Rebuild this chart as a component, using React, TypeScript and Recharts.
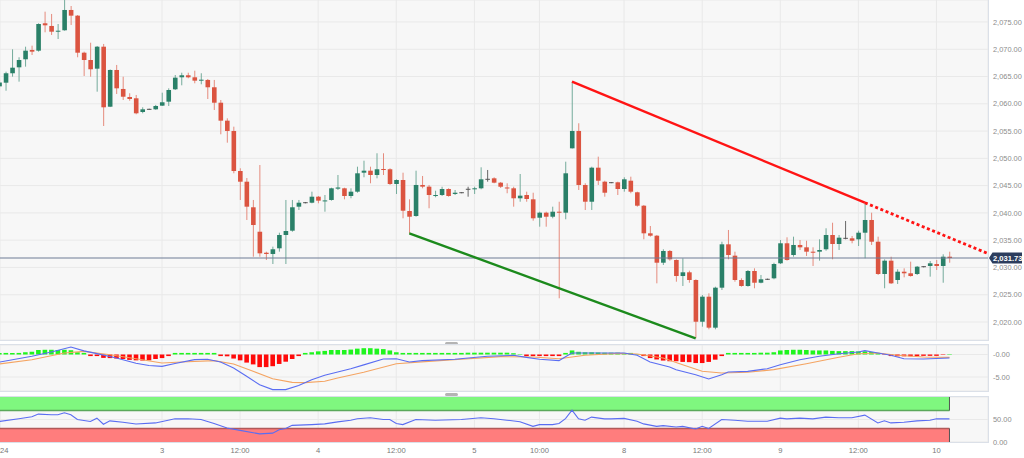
import React from 'react';
import {
  ComposedChart, Bar, Line, XAxis, YAxis, CartesianGrid, ReferenceLine, ReferenceArea, Cell,
} from 'recharts';

const FONT = "'Liberation Sans', Arial, sans-serif";

// ---------- x axis (hour index, weekend removed; 0 = Jan 2 00:00) ----------
const START_HOUR = -1;
const X_MIN = -0.891;
const X_MAX = 150.92;
const X_TICKS = [-0.89, 24, 36, 48, 60, 72, 82, 95, 107, 119, 131, 143];
const X_LABELS = ['2024', '3', '12:00', '4', '12:00', '5', '10:00', '8', '12:00', '9', '12:00', '10'];

// ---------- price candles (hourly) ----------
const OPEN = [
  2063.2, 2063.87, 2065.6, 2066.69, 2068.16, 2069.87, 2069.74, 2074.76, 2074.27, 2073.29,
  2073.48, 2077.2, 2076.16, 2069.37, 2068.03, 2066.44, 2070.47, 2059.47, 2066.2, 2062.72,
  2061.25, 2061.01, 2058.5, 2058.99, 2058.99, 2059.66, 2060.39, 2062.66, 2064.86, 2065.23,
  2064.86, 2064.31, 2064.37, 2063.03, 2060.2, 2056.91, 2055.02, 2047.68, 2045.72, 2041.03,
  2036.55, 2032.7, 2032.47, 2033.51, 2035.95, 2036.74, 2041.14, 2041.87, 2041.87, 2042.97,
  2042.18, 2042.37, 2044.44, 2044.51, 2043.1, 2043.89, 2047.37, 2047.74, 2046.95, 2048.05,
  2048.0, 2045.3, 2046.03, 2040.35, 2039.43, 2045.12, 2044.81, 2043.1, 2043.28, 2044.38,
  2043.47, 2043.7, 2044.33, 2044.33, 2044.51, 2046.16, 2046.34, 2045.54, 2044.66, 2044.51,
  2042.68, 2043.28, 2042.49, 2039.12, 2040.04, 2039.3, 2040.22, 2040.04, 2051.84, 2055.02,
  2045.12, 2042.05, 2048.29, 2045.72, 2045.54, 2045.61, 2044.38, 2045.9, 2043.78, 2041.32,
  2036.26, 2035.82, 2030.87, 2033.02, 2031.37, 2028.43, 2029.11, 2027.7, 2020.05, 2024.64,
  2018.96, 2026.29, 2034.24, 2032.16, 2027.7, 2026.6, 2029.35, 2027.2, 2027.83, 2028.01,
  2030.76, 2034.43, 2032.28, 2034.12, 2033.69, 2032.89, 2032.89, 2033.33, 2035.95, 2034.3,
  2035.34, 2035.34, 2035.16, 2036.37, 2038.7, 2034.72, 2028.8, 2031.24, 2027.7, 2029.22,
  2028.93, 2028.8, 2030.14, 2030.27, 2030.63, 2030.27, 2031.97,
];
const HIGH = [
  2064.4, 2065.89, 2069.99, 2068.53, 2070.47, 2070.66, 2074.76, 2076.89, 2076.47, 2074.63,
  2079.58, 2077.93, 2076.28, 2069.56, 2071.2, 2070.6, 2070.97, 2066.3, 2067.12, 2064.97,
  2061.93, 2061.62, 2059.36, 2059.1, 2059.8, 2062.04, 2062.84, 2065.28, 2065.7, 2065.7,
  2066.07, 2065.6, 2064.55, 2064.37, 2060.7, 2057.34, 2055.81, 2048.18, 2046.4, 2042.37,
  2048.78, 2032.89, 2033.81, 2036.37, 2042.37, 2042.37, 2042.37, 2042.0, 2043.89, 2043.1,
  2043.28, 2044.62, 2046.95, 2044.62, 2044.51, 2048.47, 2049.57, 2048.47, 2050.93, 2050.93,
  2048.18, 2046.16, 2047.37, 2042.49, 2047.74, 2046.77, 2045.12, 2044.07, 2044.8, 2044.51,
  2044.2, 2043.8, 2044.8, 2044.8, 2048.36, 2047.87, 2046.53, 2045.67, 2045.43, 2044.8,
  2047.13, 2043.89, 2043.7, 2040.22, 2040.22, 2041.14, 2042.05, 2049.39, 2064.05, 2056.43,
  2045.43, 2048.47, 2050.31, 2045.9, 2045.65, 2045.72, 2046.53, 2046.64, 2043.89, 2041.45,
  2037.6, 2035.95, 2033.33, 2033.2, 2031.49, 2031.68, 2029.41, 2027.83, 2024.95, 2025.26,
  2026.47, 2034.72, 2036.87, 2032.89, 2028.01, 2029.53, 2029.84, 2028.62, 2027.95, 2030.87,
  2035.03, 2035.53, 2035.64, 2035.03, 2034.9, 2033.69, 2035.16, 2037.18, 2038.2, 2035.95,
  2038.52, 2035.77, 2036.74, 2041.87, 2040.04, 2035.64, 2031.49, 2031.97, 2029.66, 2029.84,
  2031.06, 2030.27, 2030.25, 2031.18, 2031.37, 2032.41, 2032.89,
];
const LOW = [
  2062.8, 2062.4, 2064.97, 2064.06, 2066.81, 2068.95, 2069.56, 2073.11, 2072.62, 2071.88,
  2073.4, 2074.45, 2068.53, 2065.1, 2064.97, 2062.22, 2055.93, 2059.4, 2061.8, 2060.7,
  2060.57, 2058.08, 2058.26, 2058.9, 2058.9, 2059.6, 2059.6, 2062.53, 2063.39, 2064.68,
  2063.76, 2063.58, 2060.88, 2058.87, 2054.41, 2052.87, 2047.26, 2042.37, 2038.7, 2031.97,
  2031.97, 2031.37, 2030.63, 2032.89, 2030.63, 2036.55, 2040.53, 2041.75, 2041.76, 2041.76,
  2040.22, 2042.24, 2044.2, 2042.49, 2042.68, 2043.7, 2046.53, 2045.43, 2046.34, 2046.95,
  2045.12, 2043.47, 2039.01, 2036.26, 2039.3, 2044.51, 2040.85, 2042.86, 2043.1, 2042.97,
  2043.28, 2043.6, 2042.97, 2043.47, 2044.33, 2045.72, 2045.43, 2044.57, 2043.6, 2041.14,
  2042.05, 2042.05, 2038.57, 2037.47, 2037.47, 2039.01, 2024.35, 2038.83, 2051.8, 2044.2,
  2040.53, 2040.53, 2045.12, 2042.97, 2045.45, 2043.28, 2043.89, 2043.6, 2041.14, 2035.16,
  2035.64, 2027.09, 2030.45, 2031.24, 2027.39, 2026.6, 2027.2, 2017.01, 2019.14, 2018.66,
  2018.66, 2025.87, 2031.49, 2027.39, 2026.47, 2026.47, 2026.18, 2027.09, 2027.7, 2027.83,
  2030.63, 2031.24, 2031.97, 2033.2, 2032.1, 2030.27, 2031.24, 2033.07, 2031.49, 2033.2,
  2035.16, 2034.43, 2033.93, 2031.68, 2034.12, 2028.62, 2026.18, 2026.97, 2026.97, 2028.19,
  2028.31, 2028.62, 2030.0, 2028.31, 2029.53, 2027.2, 2030.87,
];
const CLOSE = [
  2063.9, 2065.6, 2066.62, 2068.03, 2069.74, 2069.56, 2074.63, 2074.39, 2073.22, 2073.4,
  2077.2, 2076.16, 2069.37, 2068.03, 2066.33, 2070.47, 2059.36, 2066.2, 2062.84, 2061.3,
  2060.88, 2058.26, 2058.99, 2058.99, 2059.6, 2060.28, 2062.53, 2064.79, 2065.23, 2064.86,
  2064.24, 2064.42, 2063.03, 2060.2, 2056.91, 2055.02, 2047.68, 2045.72, 2041.14, 2037.78,
  2032.59, 2032.47, 2033.33, 2035.95, 2036.68, 2041.03, 2041.87, 2041.87, 2042.97, 2042.24,
  2042.29, 2044.51, 2044.66, 2043.1, 2043.89, 2047.26, 2047.74, 2046.95, 2048.0, 2047.94,
  2045.3, 2046.03, 2040.4, 2039.3, 2045.12, 2044.81, 2043.28, 2043.28, 2044.38, 2043.1,
  2043.7, 2043.7, 2044.33, 2044.51, 2046.16, 2046.16, 2045.54, 2044.8, 2044.59, 2042.68,
  2043.16, 2042.55, 2039.01, 2040.04, 2039.3, 2040.22, 2040.15, 2047.26, 2055.02, 2045.12,
  2042.05, 2048.29, 2045.9, 2043.7, 2045.54, 2044.38, 2046.16, 2043.89, 2041.32, 2036.26,
  2035.82, 2030.87, 2033.02, 2031.49, 2028.43, 2029.11, 2027.7, 2020.05, 2024.64, 2018.96,
  2026.29, 2034.24, 2032.28, 2027.7, 2026.6, 2029.35, 2027.2, 2027.83, 2027.83, 2030.63,
  2034.43, 2031.37, 2034.12, 2033.69, 2032.89, 2032.7, 2033.2, 2035.95, 2034.3, 2035.46,
  2035.34, 2034.9, 2036.37, 2038.7, 2034.72, 2028.8, 2031.24, 2027.09, 2029.22, 2028.93,
  2028.43, 2030.14, 2030.14, 2030.76, 2030.27, 2031.97, 2031.73,
];
const LAST_PRICE = 2031.73;
const PRICE_DOMAIN = [2016.7, 2079.03];
const PRICE_TICKS = [2020, 2025, 2030, 2035, 2040, 2045, 2050, 2055, 2060, 2065, 2070, 2075];

// trend lines (hour index, price)
const RED_LINE = [{ t: 87, p: 2064.05 }, { t: 132, p: 2041.87 }];
const RED_EXT = [{ t: 132, p: 2041.87 }, { t: 150.9, p: 2032.55 }];
const GREEN_LINE = [{ t: 62, p: 2036.26 }, { t: 106, p: 2017.01 }];

// ---------- MACD ----------
const MACD_HIST = [
  0.35, 0.35, 0.35, 0.35, 0.5, 0.6, 1.0, 1.05, 1.05, 1.0,
  1.05, 0.95, 0.5, 0.35, -0.35, -0.35, -0.75, -0.8, -0.9, -1.0,
  -1.2, -1.3, -1.35, -1.3, -1.0, -0.8, -0.35, 0.35, 0.35, 0.35,
  0.35, 0.35, 0.35, 0.35, -0.35, -0.4, -0.9, -1.3, -1.8, -2.2,
  -2.8, -2.8, -2.6, -2.1, -1.6, -1.0, -0.35, 0.35, 0.5, 0.7,
  0.8, 1.0, 1.0, 1.0, 1.1, 1.3, 1.4, 1.4, 1.3, 1.2,
  0.9, 0.5, 0.35, 0.35, 0.35, 0.35, 0.35, 0.35, 0.35, 0.35,
  0.35, 0.35, 0.4, 0.4, 0.4, 0.4, 0.4, 0.4, 0.4, 0.3,
  0.1, -0.35, -0.35, -0.35, -0.35, -0.35, -0.35, 0.35, 0.9, 0.6,
  0.5, 0.5, 0.45, 0.4, 0.4, 0.4, 0.35, 0.35, 0.1, -0.35,
  -0.8, -1.1, -1.35, -1.5, -1.5, -1.65, -1.7, -1.9, -1.9, -1.65,
  -1.15, -0.35, 0.35, 0.35, 0.35, 0.35, 0.35, 0.4, 0.4, 0.5,
  0.9, 1.0, 1.05, 1.05, 1.0, 0.9, 0.9, 0.9, 0.8, 0.75,
  0.75, 0.75, 0.7, 0.7, 0.55, 0.35, -0.1, -0.35, -0.4, -0.4,
  -0.4, -0.35, -0.3, -0.3, -0.3, -0.1, 0.1,
];
const MACD_T = [
  -1, 4, 7, 10, 12, 14, 17, 20, 22, 24, 26, 29, 31, 33, 35, 37, 39, 41, 43, 45,
  47, 49, 51, 53, 55, 58, 60, 62, 64, 69, 74, 78, 80, 82, 85, 86, 87, 91, 95, 97,
  99, 102, 103, 106, 108, 110, 111, 114, 117, 119, 122, 125, 128, 131, 132, 134, 136, 138, 141, 145,
];
const MACD_V = [
  -1.7, -0.4, 0.55, 1.67, 0.8, 0.2, -0.78, -1.95, -2.45, -2.63, -2.0, -1.15, -1.07, -1.67, -3.0, -4.85, -6.7, -7.8, -7.8, -6.9,
  -5.6, -4.6, -3.9, -3.15, -2.3, -1.0, -0.93, -1.67, -1.37, -1.07, -0.4, -0.18, -0.63, -1.07, -1.37, -0.48, 0.33, 0.33, 0.33, -0.18,
  -1.67, -2.78, -3.37, -4.48, -5.44, -4.48, -3.89, -3.74, -3.15, -2.26, -1.15, -0.4, 0.18, 0.55, 0.85, 0.33, -0.18, -0.93, -1.0, -0.78,
];
const SIGNAL_T = [
  -1, 4, 9, 12, 16, 20, 24, 27, 32, 35, 38, 41, 44, 46, 49, 51, 55, 60, 65, 70,
  76, 81, 85, 89, 94, 97, 101, 104, 107, 110, 114, 118, 123, 128, 131, 134, 137, 141, 145,
];
const SIGNAL_V = [
  -2.1, -1.15, 0.33, 0.7, -0.04, -0.93, -1.89, -1.67, -1.37, -2.1, -3.74, -5.37, -6.19, -6.26, -5.96, -5.22, -3.96, -2.04, -1.52, -1.07,
  -0.48, -0.56, -0.93, -0.18, 0.26, 0.1, -0.78, -2.26, -3.74, -4.11, -3.96, -3.37, -2.04, -0.63, 0.18, 0.33, -0.18, -0.56, -0.63,
];
const MACD_DOMAIN = [-8.11, 2.11];
const MACD_TICKS = [-5, 0];

// ---------- RSI ----------
const RSI_T = [
  -1, 2, 4, 5, 7, 8, 9, 10, 11, 13, 14, 15, 16, 18, 20, 23, 26, 28, 30, 32,
  34, 36, 39, 41, 42, 43, 44, 47, 49, 51, 53, 54, 56, 58, 59, 60, 61, 63, 66, 70,
  73, 75, 77, 79, 81, 82, 84, 85, 86, 87, 88, 89, 90, 92, 93, 95, 97, 98, 100, 101,
  103, 104, 106, 107, 108, 110, 112, 114, 116, 117, 119, 120, 122, 124, 126, 128, 130, 132, 134, 135,
  136, 138, 140, 142, 143, 145,
];
const RSI_V = [
  45.5, 51.5, 56, 62, 60.6, 60.6, 65, 60.6, 50, 45.5, 53, 39.4, 47, 43.9, 40.1, 42.4, 51.5, 51.5, 50, 41,
  31, 25.8, 18, 19.7, 27.3, 30, 37, 38.6, 40.2, 44.7, 48.5, 51.5, 53.8, 50, 50, 41, 38.6, 50, 48.5, 50,
  53.8, 51.5, 48.5, 45, 34.8, 38.6, 38.6, 41, 52, 70.5, 51.5, 48.5, 55.3, 51.5, 51.5, 52.5, 46, 40.2, 34.8, 36.4,
  33.3, 34.8, 28.8, 34.8, 30, 50, 48.5, 46, 46, 46, 53, 51.5, 53, 51.5, 55.3, 53.8, 53.8, 59.8, 42.4, 47,
  42.4, 43.9, 47, 48.5, 51.5, 51.5,
];
const RSI_TICKS = [0, 50];
const RSI_OB = 70;
const RSI_OS = 30;
const RSI_BAND_END = 145;

// ---------- colours ----------
const GREEN = '#2a8068';
const RED = '#db5440';
const GREEN_WICK = '#74ab9b';
const RED_WICK = '#e58b7d';
const GRID_BG = '#f7f7f7';
const GRID_LINE = '#e9e9e9';
const BORDER = '#dbe0e8';

// ---------- built tables ----------
const candles = OPEN.map((o, i) => ({
  t: START_HOUR + i,
  o, h: HIGH[i], l: LOW[i], c: CLOSE[i],
  range: [LOW[i], HIGH[i]],
}));

const macdRows: any[] = MACD_HIST.map((v, i) => ({ t: START_HOUR + i, hist: v }));
MACD_T.forEach((t, i) => { const r = macdRows[t - START_HOUR]; if (r) r.macd = MACD_V[i]; });
SIGNAL_T.forEach((t, i) => { const r = macdRows[t - START_HOUR]; if (r) r.signal = SIGNAL_V[i]; });

const rsiRows = RSI_T.map((t, i) => ({ t, rsi: RSI_V[i] }));

const fmtPrice = (v: number) =>
  v.toLocaleString('en-US', { minimumFractionDigits: 2, maximumFractionDigits: 2 });
const fmtX = (v: number) => {
  const i = X_TICKS.indexOf(v);
  return i >= 0 ? X_LABELS[i] : '';
};

const Candle = (props: any) => {
  const { x, y, width, height, payload } = props;
  if (x == null || y == null || !payload) return null;
  const { o, h, l, c } = payload;
  const top = height >= 0 ? y : y + height;
  const hh = Math.abs(height);
  const ratio = h > l ? hh / (h - l) : 0;
  const yOf = (v: number) => top + (h - v) * ratio;
  const cx = x + width / 2;
  const bTop = yOf(Math.max(o, c));
  const bBot = yOf(Math.min(o, c));
  const flat = o === c;
  const up = c > o;
  const body = flat ? '#555' : up ? GREEN : RED;
  const wick = flat ? '#666' : up ? GREEN_WICK : RED_WICK;
  const bh = Math.max(bBot - bTop, 1);
  return (
    <g>
      <line x1={cx} x2={cx} y1={top} y2={top + hh} stroke={wick} strokeWidth={1} />
      <rect x={cx - 2.3} y={flat ? bTop - 0.5 : bTop} width={4.6} height={bh} fill={body} />
    </g>
  );
};

const PriceTag = (props: any) => {
  const vb = props.viewBox || {};
  const x = (vb.x || 0) + (vb.width || 0);
  const y = vb.y || 0;
  return (
    <g>
      <path d={`M${x + 1},${y} L${x + 4.5},${y - 5.5} H${x + 34} V${y + 5.5} H${x + 4.5} Z`} fill="#2c3d5d" />
      <text x={x + 5} y={y + 2.7} fill="#ffffff" fontSize={7.6} fontWeight="bold" fontFamily={FONT}>
        {fmtPrice(LAST_PRICE)}
      </text>
    </g>
  );
};

const axisTick = { fontSize: 7.4, fill: '#8c8c8c', fontFamily: FONT };

export default function App() {
  return (
    <div style={{ position: 'absolute', left: 0, top: 0, width: 1024, height: 458, background: '#fff', overflow: 'hidden' }}>
      {/* price panel */}
      <div style={{ position: 'absolute', left: 0, top: 0 }}>
        <ComposedChart width={1024} height={340} data={candles} margin={{ top: 0, right: 0, bottom: 0, left: 0 }}>
          <CartesianGrid fill={GRID_BG} stroke={GRID_LINE} />
          <XAxis type="number" dataKey="t" domain={[X_MIN, X_MAX]} allowDataOverflow ticks={X_TICKS} hide />
          <YAxis
            orientation="right" width={36} domain={PRICE_DOMAIN} allowDataOverflow ticks={PRICE_TICKS}
            tickFormatter={fmtPrice} axisLine={false} tickLine={false} tickSize={3} tickMargin={2}
            tick={axisTick} interval={0}
          />
          <Bar dataKey="range" barSize={5} shape={<Candle />} isAnimationActive={false} />
          <ReferenceLine y={LAST_PRICE} stroke="#6e7c95" strokeWidth={1.2} label={<PriceTag />} />
          <ReferenceLine
            segment={[{ x: GREEN_LINE[0].t, y: GREEN_LINE[0].p }, { x: GREEN_LINE[1].t, y: GREEN_LINE[1].p }]}
            stroke="#1c8a1c" strokeWidth={2.4} ifOverflow="visible"
          />
          <ReferenceLine
            segment={[{ x: RED_LINE[0].t, y: RED_LINE[0].p }, { x: RED_LINE[1].t, y: RED_LINE[1].p }]}
            stroke="#ff1414" strokeWidth={2.4} ifOverflow="visible"
          />
          <ReferenceLine
            segment={[{ x: RED_EXT[0].t, y: RED_EXT[0].p }, { x: RED_EXT[1].t, y: RED_EXT[1].p }]}
            stroke="#ff1414" strokeWidth={2.8} strokeDasharray="3 2.6" ifOverflow="visible"
          />
        </ComposedChart>
      </div>
      <div style={{ position: 'absolute', left: 0, top: 0, width: 989, height: 341, boxSizing: 'border-box', borderRight: `1px solid ${BORDER}`, borderBottom: `1px solid ${BORDER}`, pointerEvents: 'none' }} />
      <div style={{ position: 'absolute', left: 445, top: 341.5, width: 13, height: 3, borderRadius: 2, background: '#b4b4b4' }} />

      {/* MACD panel */}
      <div style={{ position: 'absolute', left: 0, top: 345 }}>
        <ComposedChart width={1024} height={46} data={macdRows} margin={{ top: 0, right: 0, bottom: 0, left: 0 }}>
          <CartesianGrid fill={GRID_BG} stroke={GRID_LINE} />
          <XAxis type="number" dataKey="t" domain={[X_MIN, X_MAX]} allowDataOverflow ticks={X_TICKS} hide />
          <YAxis
            orientation="right" width={36} domain={MACD_DOMAIN} allowDataOverflow ticks={MACD_TICKS}
            tickFormatter={(v: number) => (v === 0 ? '-0.00' : v.toFixed(2))}
            axisLine={false} tickLine={false} tickSize={3} tickMargin={2} tick={axisTick} interval={0}
          />
          <Bar dataKey="hist" barSize={4.6} isAnimationActive={false}>
            {macdRows.map((r, i) => (
              <Cell key={i} fill={r.hist >= 0 ? '#1ef51e' : '#ff0a0a'} />
            ))}
          </Bar>
          <Line dataKey="signal" stroke="#f4a462" strokeWidth={1.1} dot={false} connectNulls isAnimationActive={false} />
          <Line dataKey="macd" stroke="#5a6df2" strokeWidth={1.1} dot={false} connectNulls isAnimationActive={false} />
        </ComposedChart>
      </div>
      <div style={{ position: 'absolute', left: 0, top: 344, width: 989, height: 48, boxSizing: 'border-box', borderTop: `1px solid ${BORDER}`, borderRight: `1px solid ${BORDER}`, borderBottom: `1px solid ${BORDER}`, pointerEvents: 'none' }} />
      <div style={{ position: 'absolute', left: 445, top: 393, width: 13, height: 3, borderRadius: 2, background: '#b4b4b4' }} />

      {/* RSI panel */}
      <div style={{ position: 'absolute', left: 0, top: 397 }}>
        <ComposedChart width={1024} height={61} data={rsiRows} margin={{ top: 0, right: 0, bottom: 0, left: 0 }}>
          <CartesianGrid fill={GRID_BG} stroke={GRID_LINE} />
          <XAxis
            type="number" dataKey="t" domain={[X_MIN, X_MAX]} allowDataOverflow ticks={X_TICKS}
            tickFormatter={fmtX} interval={0} height={16} axisLine={false} tickLine={false}
            tickSize={4} tickMargin={2} tick={{ fontSize: 7.6, fill: '#777', fontFamily: FONT }}
          />
          <YAxis
            orientation="right" width={36} domain={[0, 100]} ticks={RSI_TICKS}
            tickFormatter={(v: number) => v.toFixed(2)}
            axisLine={false} tickLine={false} tickSize={3} tickMargin={2} tick={axisTick} interval={0}
          />
          <ReferenceArea x1={X_MIN} x2={RSI_BAND_END} y1={RSI_OB} y2={100} fill="#7ff77f" fillOpacity={1} stroke="none" ifOverflow="visible" />
          <ReferenceArea x1={X_MIN} x2={RSI_BAND_END} y1={0} y2={RSI_OS} fill="#ff7d7d" fillOpacity={1} stroke="none" ifOverflow="visible" />
          <ReferenceLine segment={[{ x: X_MIN, y: RSI_OB }, { x: RSI_BAND_END, y: RSI_OB }]} stroke="#5aa85a" strokeWidth={1.5} ifOverflow="visible" />
          <ReferenceLine segment={[{ x: X_MIN, y: RSI_OS }, { x: RSI_BAND_END, y: RSI_OS }]} stroke="#b05a5a" strokeWidth={1.5} ifOverflow="visible" />
          <ReferenceLine segment={[{ x: RSI_BAND_END, y: RSI_OB }, { x: RSI_BAND_END, y: 100 }]} stroke="#555" strokeWidth={1} ifOverflow="visible" />
          <ReferenceLine segment={[{ x: RSI_BAND_END, y: 0 }, { x: RSI_BAND_END, y: RSI_OS }]} stroke="#555" strokeWidth={1} ifOverflow="visible" />
          <Line dataKey="rsi" stroke="#5a6df2" strokeWidth={1.1} dot={false} isAnimationActive={false} />
        </ComposedChart>
      </div>
      <div style={{ position: 'absolute', left: 0, top: 396, width: 989, height: 47, boxSizing: 'border-box', borderTop: `1px solid ${BORDER}`, borderRight: `1px solid ${BORDER}`, borderBottom: `1px solid ${BORDER}`, pointerEvents: 'none' }} />
    </div>
  );
}
